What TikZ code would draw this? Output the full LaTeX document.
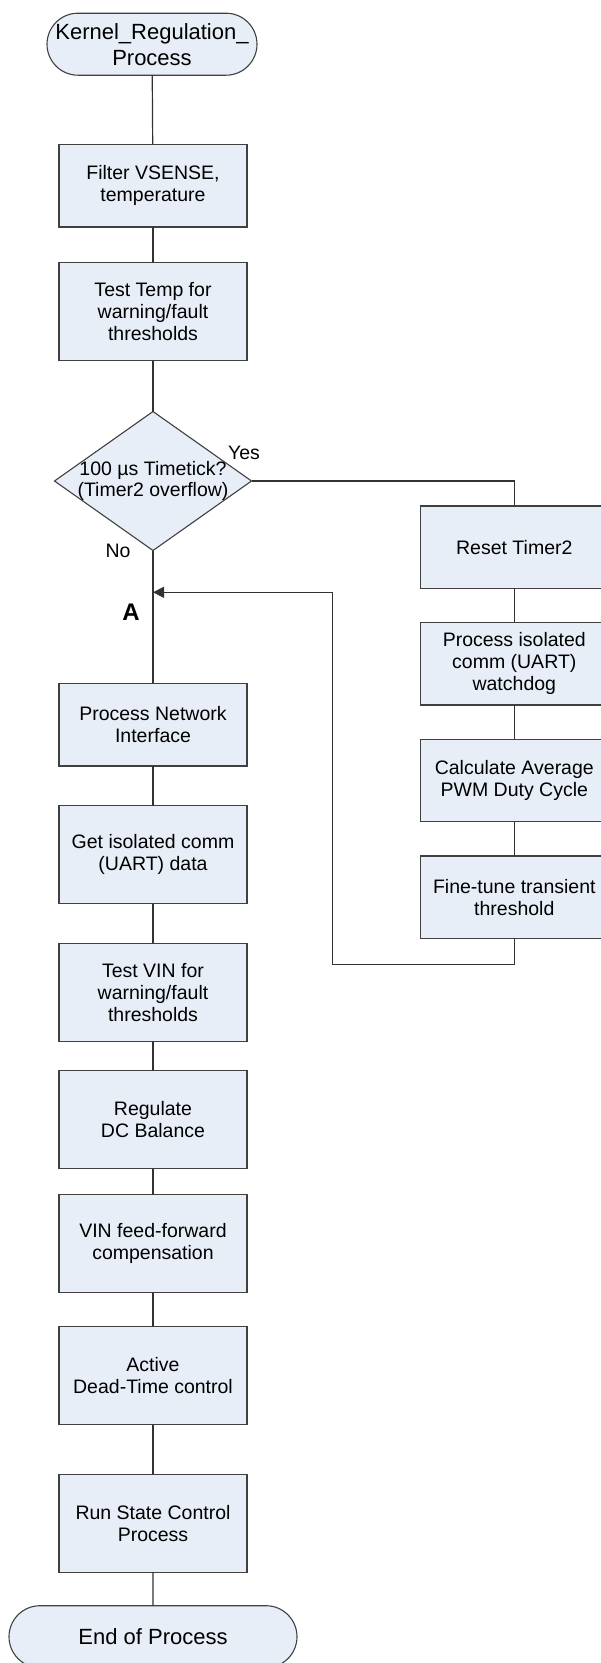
\documentclass[tikz,border=0pt]{standalone}
\usepackage{fontspec}
\setmainfont{Liberation Sans}
\usetikzlibrary{shapes.geometric,shapes.misc,arrows.meta,calc}
\definecolor{boxfill}{RGB}{232,238,248}
\definecolor{boxline}{RGB}{64,64,64}
\definecolor{wire}{RGB}{50,50,50}
\begin{document}
\begin{tikzpicture}[x=1pt,y=-1pt,
  every node/.style={font=\fontsize{19.5}{22}\selectfont, inner sep=0pt, outer sep=0pt},
  procbox/.style={draw=boxline, fill=boxfill, line width=1.1pt, rectangle,
    minimum width=188pt, align=center},
  tall/.style={procbox, minimum height=98pt},
  short/.style={procbox, minimum height=82.5pt},
  terminal/.style={draw=boxline, fill=boxfill, line width=1.1pt, rounded rectangle,
    minimum height=62pt, align=center, font=\fontsize{22}{26}\selectfont},
  decision/.style={draw=boxline, fill=boxfill, line width=1.1pt, diamond,
    minimum width=197pt, minimum height=139pt, align=center,
    font=\fontsize{19.5}{21}\selectfont},
  wirestyle/.style={draw=wire, line width=1.2pt},
  tag/.style={font=\fontsize{19.5}{22}\selectfont}]
\useasboundingbox (0,0) rectangle (601,1663);
\clip (0,0) rectangle (601,1663);

% main column
\node[terminal, minimum width=210pt] (start) at (152,44.2)
  {Kernel\_Regulation\_\\Process};
\node[short] (filter) at (153,185.7) {Filter VSENSE,\\temperature};
\node[tall] (ttemp) at (153,311.8) {Test Temp for\\warning/fault\\thresholds};
\node[decision] (dec) at (153,481)
  {\makebox[0pt]{100 µs Timetick?}\\\makebox[0pt]{(Timer2 overflow)}};
\node[short] (pni) at (153,724.7) {Process Network\\Interface};
\node[tall] (gic) at (153,854.5) {Get isolated comm\\(UART) data};
\node[tall] (tvin) at (153,992.2) {Test VIN for\\warning/fault\\thresholds};
\node[tall] (reg) at (153,1119.5) {Regulate\\DC Balance};
\node[tall] (vff) at (153,1243.8) {VIN feed-forward\\compensation};
\node[tall] (adt) at (153,1375.8) {Active\\Dead-Time control};
\node[tall] (rsc) at (153,1523.2) {Run State Control\\Process};
\node[terminal, minimum width=288pt] (finish) at (153,1636.7) {End of Process};

% timetick branch
\node[short, minimum width=187pt] (reset) at (514.3,547.2) {Reset Timer2};
\node[short, minimum width=187pt] (iso) at (514.3,663.7)
  {Process isolated\\comm (UART)\\watchdog};
\node[short, minimum width=187pt] (calc) at (514.3,780.5)
  {Calculate Average\\PWM Duty Cycle};
\node[short, minimum width=187pt] (fine) at (514.3,897.2)
  {Fine-tune transient\\threshold};

% branch labels
\node[tag] (yes) at (244,452.7) {Yes};
\node[tag] (no) at (118,550.7) {No};
\node[font=\bfseries\fontsize{24}{28}\selectfont] (lblA) at (131,612.7) {A};

% return path coordinates
\coordinate (loopbot) at (332.3,964.3);
\coordinate (joinA) at (153,592.3);

% connectors
\draw[wirestyle] (start) -- (filter);
\draw[wirestyle] (filter) -- (ttemp);
\draw[wirestyle] (ttemp) -- (dec);
\draw[wirestyle] (dec.south) -- (pni.north);
\draw[wirestyle] (pni) -- (gic);
\draw[wirestyle] (gic) -- (tvin);
\draw[wirestyle] (tvin) -- (reg);
\draw[wirestyle] (reg) -- (vff);
\draw[wirestyle] (vff) -- (adt);
\draw[wirestyle] (adt) -- (rsc);
\draw[wirestyle] (rsc) -- (finish);
\draw[wirestyle] (dec.east) -| (reset.north);
\draw[wirestyle] (reset) -- (iso);
\draw[wirestyle] (iso) -- (calc);
\draw[wirestyle] (calc) -- (fine);
\draw[wirestyle, -{Triangle[length=11pt,width=11pt]}]
  (fine.south) |- (loopbot) |- (joinA);
\end{tikzpicture}
\end{document}
